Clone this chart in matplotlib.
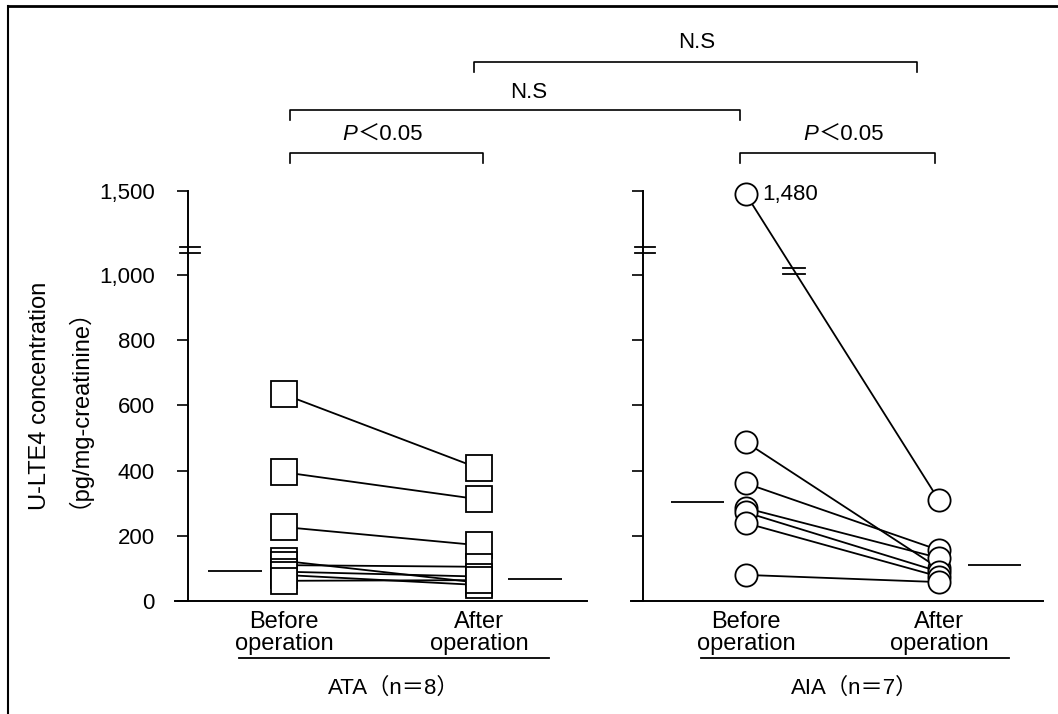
import numpy as np
import matplotlib
matplotlib.use("Agg")
import matplotlib.pyplot as plt
from matplotlib.transforms import blended_transform_factory

plt.rcParams['font.family'] = ['Liberation Sans', 'Noto Sans CJK JP', 'DejaVu Sans']

# ---------------- data ----------------
categories = ['Before\noperation', 'After\noperation']
ata_before = [634, 395, 227, 123, 110, 90, 80, 62]
ata_after = [407, 312, 171, 56, 105, 75, 49, 64]
aia_before = [1480, 487, 361, 285, 272, 239, 80]
aia_after = [309, 100, 156, 132, 90, 75, 58]
ata_median = [92, 67]
aia_median = [303, 110]
yticks = [0, 200, 400, 600, 800, 1000, 1500]
yticklabels = ['0', '200', '400', '600', '800', '1,000', '1,500']
group_labels = ['ATA（n＝8）', 'AIA（n＝7）']
outlier_label = '1,480'
sig_within = 'P<0.05'
sig_between = 'N.S'
ylabel_lines = ['U-LTE4 concentration', '（pg/mg-creatinine）']

# broken axis: compress values above 1000
K = 0.516
BREAK = 1150


def fwd(v):
    v = np.asarray(v, dtype=float)
    return np.where(v <= 1000, v, 1000 + (v - 1000) * K)


def inv(u):
    u = np.asarray(u, dtype=float)
    return np.where(u <= 1000, u, 1000 + (u - 1000) / K)


W, H = 1058, 714
fig = plt.figure(figsize=(W / 100, H / 100), dpi=100)


def fx(px):
    return px / W


def fy(py):
    return (H - py) / H


LW = 1.3
FS = 16

# axes in pixel layout
ax1 = fig.add_axes([fx(175), fy(601), fx(412), (601 - 191) / H])
ax2 = fig.add_axes([fx(631), fy(601), fx(412), (601 - 191) / H])
panels = [
    (ax1, ata_before, ata_after, ata_median, 's', 19, (-0.559, 1.554), 13 / 412),
    (ax2, aia_before, aia_after, aia_median, 'o', 16, (-0.596, 1.539), 12 / 412),
]
for ax, b, a, med, mk, ms, xl, spx in panels:
    ax.set_yscale('function', functions=(fwd, inv))
    ax.set_ylim(0, 1500)
    ax.set_xlim(*xl)
    for yb, ya in zip(b, a):
        ax.plot([0, 1], [yb, ya], color='black', lw=LW, marker=mk, ms=ms,
                mfc='white', mec='black', mew=LW, clip_on=False, zorder=3)
    ax.hlines(med[0], -0.39, -0.115, color='black', lw=LW)
    ax.hlines(med[1], 1.15, 1.425, color='black', lw=LW)
    for s in ['top', 'right']:
        ax.spines[s].set_visible(False)
    ax.spines['left'].set_position(('axes', spx))
    ax.spines['left'].set_linewidth(1.4)
    ax.spines['bottom'].set_linewidth(1.4)
    ax.set_yticks(yticks)
    ax.yaxis.set_minor_locator(matplotlib.ticker.NullLocator())
    ax.tick_params(axis='y', direction='out', length=8, width=1.2, pad=16,
                   labelsize=FS)
    ax.set_xticks([0, 1])
    ax.set_xticklabels(categories, fontsize=FS + 1, linespacing=1.0)
    ax.tick_params(axis='x', length=0, pad=7)
    ax.patch.set_visible(False)

ax1.set_yticklabels(yticklabels)
ax2.set_yticklabels([])

# outlier annotation
ax2.annotate(outlier_label, (0, aia_before[0]), xytext=(12, 0),
             textcoords='offset points', va='center', ha='left', fontsize=FS)

inv_fig = fig.transFigure.inverted()


def hmark(xc, yc, x_left, x_right, gap=3):
    """two short horizontal strokes (break mark) around display point."""
    for dy in (-gap, gap):
        a = inv_fig.transform((xc - x_left, yc + dy))
        b = inv_fig.transform((xc + x_right, yc + dy))
        fig.add_artist(plt.Line2D([a[0], b[0]], [a[1], b[1]], color='black', lw=1.3))


# axis break marks
for ax in (ax1, ax2):
    tr = blended_transform_factory(ax.transAxes, ax.transData)
    sx = ax.spines['left'].get_position()[1]
    p = tr.transform((sx, BREAK))
    hmark(p[0], p[1], 8, 12)

# break mark on the outlier line
p0 = ax2.transData.transform((0, aia_before[0]))
p1 = ax2.transData.transform((1, aia_after[0]))
pm = p0 + 0.25 * (p1 - p0)
hmark(pm[0], pm[1], 11, 11)


def px_of(ax, x):
    return ax.transData.transform((x, 0))[0]


def bracket(xa, xb, ytop, drop=10):
    fig.add_artist(plt.Line2D([fx(xa), fx(xa), fx(xb), fx(xb)],
                              [fy(ytop + drop), fy(ytop), fy(ytop), fy(ytop + drop)],
                              color='black', lw=1.2))


def sig_text(x, y, txt):
    if txt.startswith('P'):
        fig.text(fx(x), fy(y), 'P', ha='right', va='center', fontsize=FS,
                 style='italic')
        fig.text(fx(x), fy(y), '＜' + txt[2:], ha='left', va='center', fontsize=FS)
    else:
        fig.text(fx(x), fy(y), txt, ha='center', va='center', fontsize=FS)


lb = px_of(ax1, 0)
la = px_of(ax1, 1)
rb = px_of(ax2, 0)
ra = px_of(ax2, 1)

bracket(lb + 6, la + 4, 153)
bracket(rb - 6, ra - 4, 153)
bracket(lb + 6, rb - 6, 110)
bracket(la - 5, ra - 22, 62)
sig_text((lb + la) / 2 - 24, 135, sig_within)
sig_text((rb + ra) / 2 - 24, 135, sig_within)
sig_text((lb + rb) / 2 + 14, 93, sig_between)
sig_text((la + ra) / 2 - 12, 42, sig_between)

# group underlines and labels
for ax, g in zip((ax1, ax2), group_labels):
    xa = px_of(ax, 0) - 45
    xb = px_of(ax, 1) + 70
    fig.add_artist(plt.Line2D([fx(xa), fx(xb)], [fy(658), fy(658)],
                              color='black', lw=1.3))
    fig.text(fx((xa + xb) / 2), fy(688), g, ha='center', va='center', fontsize=FS)

# y label (two centred lines)
fig.text(fx(40), fy(396), ylabel_lines[0], rotation=90, ha='center', va='center',
         fontsize=FS + 1)
fig.text(fx(66), fy(396), ylabel_lines[1], rotation=90, ha='center', va='center',
         fontsize=FS + 1)

# scan frame (top and left edges)
fig.add_artist(plt.Line2D([fx(8), 1], [fy(6), fy(6)], color='black', lw=2))
fig.add_artist(plt.Line2D([fx(8), fx(8)], [fy(6), 0], color='black', lw=1.5))

fig.savefig('out.png', dpi=100)
